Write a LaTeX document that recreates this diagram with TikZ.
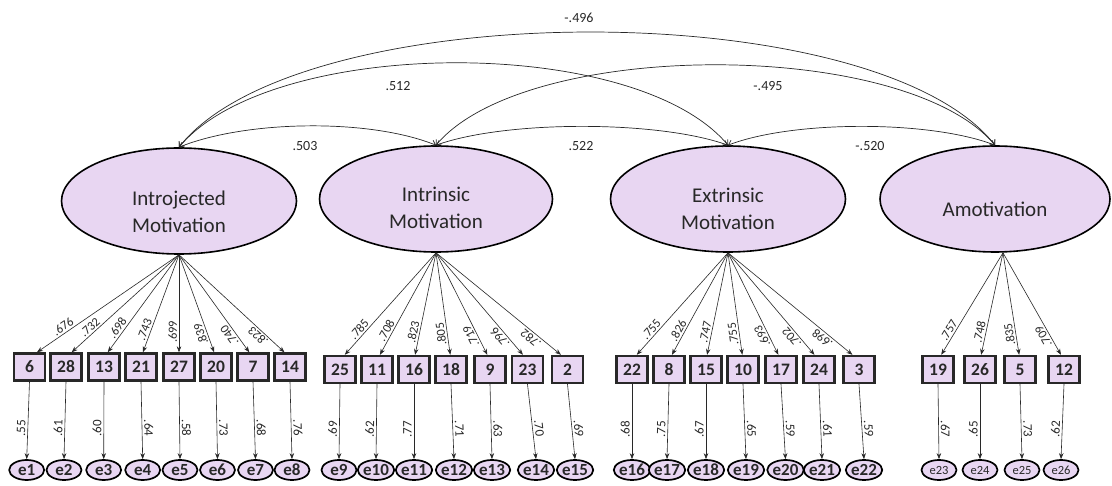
\documentclass[tikz,border=0pt]{standalone}
\usepackage{fontspec}
\setmainfont{Carlito}
\usetikzlibrary{shapes.geometric,arrows.meta,calc}
\definecolor{lav}{RGB}{232,214,242}
\definecolor{ink}{RGB}{40,40,40}

\begin{document}
\begin{tikzpicture}[x=1pt,y=-1pt,
  latent/.style={ellipse, draw=black, line width=1.6pt, fill=lav,
    minimum width=233pt, minimum height=106pt, inner sep=0pt},
  ltext/.style={align=center, text=ink, font=\fontsize{21}{27}\selectfont},
  item/.style={rectangle, draw=ink, line width=2.4pt, fill=lav,
    minimum width=31pt, minimum height=27pt, inner sep=0pt, text=ink,
    font=\bfseries\fontsize{17.5}{18}\selectfont},
  err/.style={ellipse, draw=black, line width=1.7pt, fill=lav,
    minimum width=35pt, minimum height=20pt, inner sep=0pt, text=ink,
    font=\bfseries\fontsize{17}{17}\selectfont},
  errsmall/.style={err, font=\fontsize{12.5}{12.5}\selectfont},
  load/.style={draw=ink, line width=0.6pt, {Stealth[length=6pt,width=4.5pt]}-},
  lload/.style={pos=0.21, sloped, above, allow upside down, inner sep=1.8pt,
    text=ink, font=\fontsize{12.5}{13}\selectfont},
  lerr/.style={pos=0.4, sloped, above, inner sep=2pt,
    text=ink, font=\fontsize{13}{13}\selectfont},
  cov/.style={draw=ink, line width=0.7pt,
    {Straight Barb[length=4pt,width=7pt]}-{Straight Barb[length=4pt,width=7pt]}},
  clabel/.style={text=ink, font=\fontsize{14}{14}\selectfont}
]
\fill[white] (0,0) rectangle (1112,486);
\useasboundingbox (0,0) rectangle (1112,486);

% latent factors
\node[latent, minimum width=235pt] (I) at (179,201) {};
\node[latent] (N) at (436,199) {};
\node[latent, minimum width=235pt] (E) at (728,199) {};
\node[latent, minimum width=230pt] (A) at (995,199) {};
\node[ltext] (Itxt) at (179,211.5) {Introjected\\Motivation};
\node[ltext] (Ntxt) at (436,208) {Intrinsic\\Motivation};
\node[ltext] (Etxt) at (728,209) {Extrinsic\\Motivation};
\node[ltext] (Atxt) at (995,209) {Amotivation};

\coordinate (apI) at (I.south);
\coordinate (apN) at (N.south);
\coordinate (apE) at (E.south);
\coordinate (apA) at ($(A.south)+(8,0)$);

% correlations between factors
\draw[cov] (I.north) .. controls +(67,-27) and +(-67,-27) .. (N.north);
\draw[cov] (N.north) .. controls +(70,-25) and +(-70,-25) .. (E.north);
\draw[cov] (E.north) .. controls +(65,-25) and +(-65,-25) .. (A.north);
\draw[cov] (I.north) .. controls +(93,-111) and +(-93,-111) .. (E.north);
\draw[cov] (N.north) .. controls +(90,-107) and +(-90,-107) .. (A.north);
\draw[cov] (I.north) .. controls +(120,-152) and +(-120,-152) .. (A.north);

\node[clabel] (c1) at (305,146) {.503};
\node[clabel] (c2) at (581,146) {.522};
\node[clabel] (c3) at (870,146) {-.520};
\node[clabel] (c4) at (398,86) {.512};
\node[clabel] (c5) at (768,86) {-.495};
\node[clabel] (c6) at (579,18) {-.496};

% Introjected Motivation items
\foreach \bx/\bn/\ld/\ex/\en/\ev in {
  29.5/6/.676/26.7/1/.55, 66/28/.732/64/2/.61, 104/13/.698/103.7/3/.60,
  141/21/.743/142.7/4/.64, 179/27/.699/180/5/.58, 216/20/.839/217.5/6/.73,
  253/7/.740/255.5/7/.68, 290/14/.823/292/8/.76} {
  \node[item] (b\bn) at (\bx,367) {\bn};
  \node[err] (e\en) at (\ex,470) {e\en};
  \coordinate (t\bn) at ($(b\bn.north)!0.05!(b\bn.north -| apI)$);
  \draw[load] (t\bn) -- (apI) node[lload] {\ld};
  \draw[load] (e\en.north) -- (b\bn.south) node[lerr] {\ev};
}

% Intrinsic Motivation items
\foreach \bx/\bn/\ld/\ex/\en/\ev in {
  340/25/.785/339/9/.69, 377/11/.708/376/10/.62, 414/16/.823/414/11/.77,
  451/18/.805/454/12/.71, 490/9/.719/492/13/.63, 527.5/23/.796/536/14/.70,
  567.5/2/.782/575/15/.69} {
  \node[item] (b\bn) at (\bx,369.5) {\bn};
  \node[err] (e\en) at (\ex,470) {e\en};
  \coordinate (t\bn) at ($(b\bn.north)!0.05!(b\bn.north -| apN)$);
  \draw[load] (t\bn) -- (apN) node[lload] {\ld};
  \draw[load] (e\en.north) -- (b\bn.south) node[lerr] {\ev};
}

% Extrinsic Motivation items
\foreach \bx/\bn/\ld/\ex/\en/\ev in {
  632/22/.755/632/16/.68, 669/8/.826/667/17/.75, 706/15/.747/706/18/.67,
  743/10/.755/746/19/.65, 781/17/.693/785.5/20/.59, 819/24/.702/822/21/.61,
  859/3/.698/864/22/.59} {
  \node[item] (b\bn) at (\bx,369.5) {\bn};
  \node[err] (e\en) at (\ex,470) {e\en};
  \coordinate (t\bn) at ($(b\bn.north)!0.05!(b\bn.north -| apE)$);
  \draw[load] (t\bn) -- (apE) node[lload] {\ld};
  \draw[load] (e\en.north) -- (b\bn.south) node[lerr] {\ev};
}

% Amotivation items
\foreach \bx/\bn/\ld/\ex/\en/\ev in {
  938/19/.757/939/23/.67, 980/26/.748/980/24/.65, 1020/5/.835/1022/25/.73,
  1064/12/.709/1061/26/.62} {
  \node[item] (b\bn) at (\bx,369.5) {\bn};
  \node[errsmall] (e\en) at (\ex,470) {e\en};
  \coordinate (t\bn) at ($(b\bn.north)!0.05!(b\bn.north -| apA)$);
  \draw[load] (t\bn) -- (apA) node[lload] {\ld};
  \draw[load] (e\en.north) -- (b\bn.south) node[lerr] {\ev};
}
\end{tikzpicture}
\end{document}
